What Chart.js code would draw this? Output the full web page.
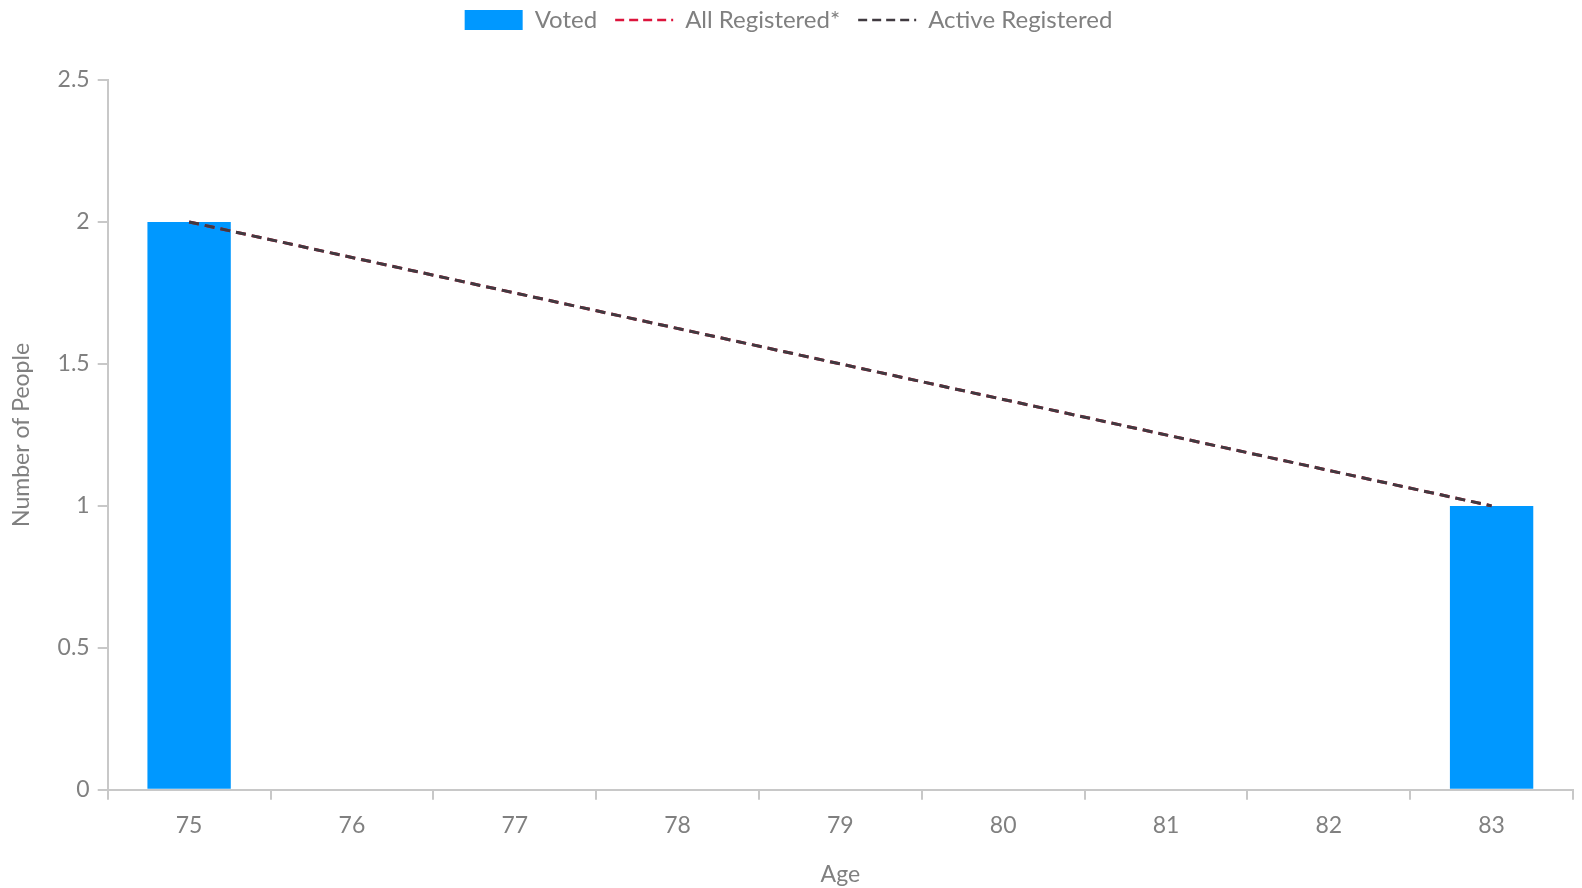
<!DOCTYPE html>
<html>
<head>
<meta charset="utf-8">
<script src="https://cdn.jsdelivr.net/npm/chart.js@4.4.0/dist/chart.umd.min.js"></script>
<style>
  html, body { margin: 0; padding: 0; background: #fff; }
  #wrap { width: 1582px; height: 888px; }
</style>
</head>
<body>
<div id="wrap"><canvas id="grafica"></canvas></div>
<script>
const ages = ['75', '76', '77', '78', '79', '80', '81', '82', '83'];
const voted = [2, null, null, null, null, null, null, null, 1];
const allRegistered = [2, null, null, null, null, null, null, null, 1];
const activeRegistered = [2, null, null, null, null, null, null, null, 1];

const gris = '#808080';
const lineaEje = '#c8c8c8';
Chart.defaults.font.family = 'Lato, "Open Sans", sans-serif';
Chart.defaults.font.size = 23;
Chart.defaults.color = gris;

// espacio extra debajo de la leyenda
const margenLeyenda = {
  id: 'margenLeyenda',
  beforeInit(chart) {
    const fitOriginal = chart.legend.fit;
    chart.legend.fit = function () {
      fitOriginal.bind(chart.legend)();
      this.height += 38;
    };
  }
};

new Chart(document.getElementById('grafica').getContext('2d'), {
  type: 'bar',
  data: {
    labels: ages,
    datasets: [
      {
        label: 'Voted',
        data: voted,
        backgroundColor: '#0098ff',
        borderWidth: 0,
        pointStyle: 'rect',
        categoryPercentage: 0.8,
        barPercentage: 0.64,
        order: 3
      },
      {
        type: 'line',
        label: 'All Registered*',
        data: allRegistered,
        borderColor: '#dc143c',
        backgroundColor: '#dc143c',
        borderWidth: 3,
        borderDash: [10, 6],
        pointRadius: 0,
        pointStyle: 'line',
        spanGaps: true,
        order: 2
      },
      {
        type: 'line',
        label: 'Active Registered',
        data: activeRegistered,
        borderColor: '#403a40',
        backgroundColor: '#403a40',
        borderWidth: 3,
        borderDash: [10, 6],
        pointRadius: 0,
        pointStyle: 'line',
        spanGaps: true,
        order: 1
      }
    ]
  },
  options: {
    responsive: true,
    maintainAspectRatio: false,
    animation: false,
    layout: { padding: { left: 4, right: 9, top: -10, bottom: 0 } },
    plugins: {
      legend: {
        position: 'top',
        labels: {
          usePointStyle: true,
          pointStyleWidth: 58,
          boxHeight: 20,
          padding: 18,
          color: gris,
          font: { size: 24 },
          sort: (a, b) => a.datasetIndex - b.datasetIndex,
          generateLabels: (chart) => {
            const items = Chart.defaults.plugins.legend.labels.generateLabels(chart);
            items.forEach((it) => {
              const ds = chart.data.datasets[it.datasetIndex];
              if (ds.borderDash) {
                it.lineDash = [9, 5];
                it.lineWidth = 2.5;
                it.strokeStyle = ds.borderColor;
              }
            });
            return items;
          }
        }
      },
      tooltip: { enabled: false }
    },
    scales: {
      x: {
        title: { display: true, text: 'Age', color: gris, padding: { top: 9, bottom: 0 } },
        grid: { drawOnChartArea: false, color: lineaEje, tickLength: 10, lineWidth: 2 },
        border: { color: lineaEje, width: 2 },
        ticks: { padding: 12 }
      },
      y: {
        min: 0,
        max: 2.5,
        title: { display: true, text: 'Number of People', color: gris, padding: { top: 4, bottom: 14 } },
        grid: { drawOnChartArea: false, color: lineaEje, tickLength: 10, lineWidth: 2 },
        border: { color: lineaEje, width: 2 },
        ticks: { stepSize: 0.5, padding: 8, callback: (v) => String(v) }
      }
    }
  },
  plugins: [margenLeyenda]
});
</script>
</body>
</html>
